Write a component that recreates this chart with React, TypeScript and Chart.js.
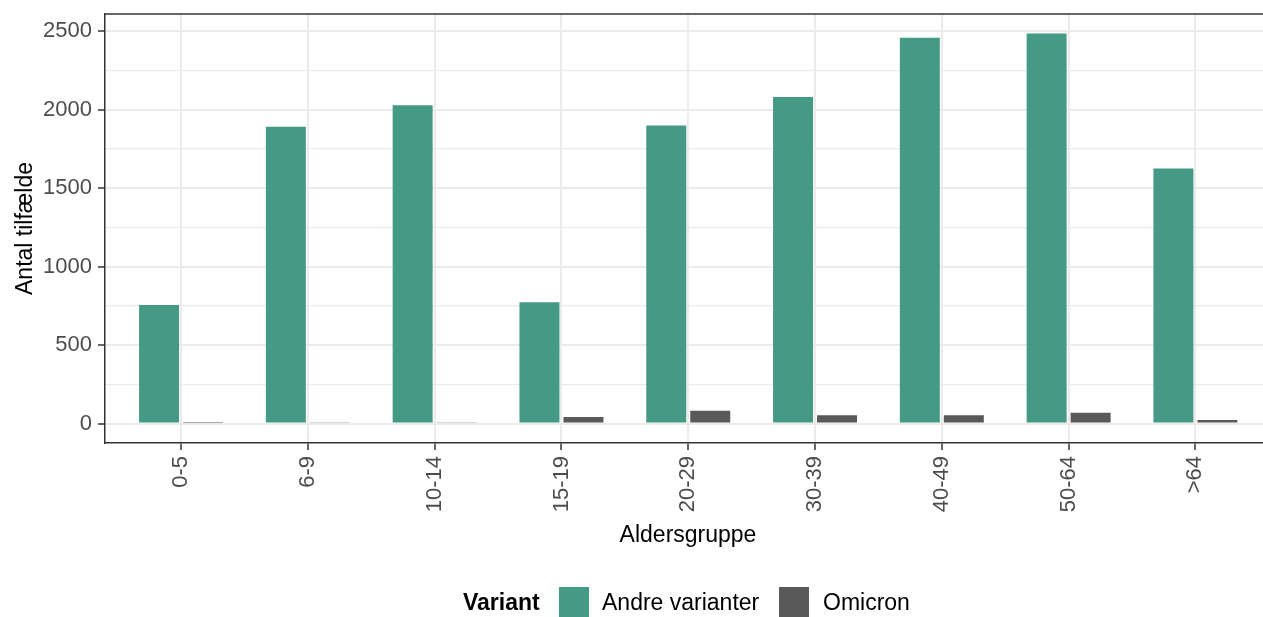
import React, { useEffect, useRef } from "react";
import { Chart, registerables } from "chart.js";

Chart.register(...registerables);

const categories = ["0-5", "6-9", "10-14", "15-19", "20-29", "30-39", "40-49", "50-64", ">64"];
const andreValues = [755, 1890, 2027, 772, 1898, 2080, 2458, 2485, 1625];
const omicronValues = [4, 5, 8, 42, 81, 53, 53, 68, 22];
const yMajorTicks = [0, 500, 1000, 1500, 2000, 2500];
const yMinorTicks = [250, 750, 1250, 1750, 2250];
const seriesNames = ["Andre varianter", "Omicron"];
const legendTitle = "Variant";
const xTitle = "Aldersgruppe";
const yTitle = "Antal tilfælde";

const GREEN = "#449A84";
const GREY = "#595959";
const FONT = "'Liberation Sans', Arial, Helvetica, sans-serif";

export default function App() {
  const ref = useRef<HTMLCanvasElement | null>(null);

  useEffect(() => {
    const canvas = ref.current;
    if (!canvas) return;

    const overlay = {
      id: "overlay",
      afterDraw(chart: any) {
        const ctx = chart.ctx as CanvasRenderingContext2D;
        const a = chart.chartArea;
        ctx.save();
        // top panel border
        ctx.strokeStyle = "#333333";
        ctx.lineWidth = 1.5;
        ctx.beginPath();
        ctx.moveTo(a.left, a.top);
        ctx.lineTo(a.right, a.top);
        ctx.stroke();

        // axis titles
        ctx.fillStyle = "#000000";
        ctx.font = `23px ${FONT}`;
        ctx.textAlign = "center";
        ctx.textBaseline = "alphabetic";
        ctx.fillText(xTitle, 688, 542);

        ctx.save();
        ctx.translate(32, (a.top + a.bottom) / 2);
        ctx.rotate(-Math.PI / 2);
        ctx.fillText(yTitle, 0, 0);
        ctx.restore();

        // legend
        ctx.textAlign = "left";
        ctx.font = `bold 23px ${FONT}`;
        ctx.fillText(legendTitle, 463, 610);
        ctx.font = `23px ${FONT}`;
        ctx.fillStyle = GREEN;
        ctx.fillRect(559, 587, 30, 30);
        ctx.fillStyle = "#000000";
        ctx.fillText(seriesNames[0], 602, 610);
        ctx.fillStyle = GREY;
        ctx.fillRect(779, 587, 30, 30);
        ctx.fillStyle = "#000000";
        ctx.fillText(seriesNames[1], 823, 610);
        ctx.restore();
      },
    };

    const chart = new Chart(canvas, {
      type: "bar",
      data: {
        datasets: [
          {
            label: seriesNames[0],
            data: andreValues.map((v, i) => ({ x: i, y: v })),
            backgroundColor: GREEN,
            borderWidth: 0,
            categoryPercentage: 0.694,
            barPercentage: 0.909,
          },
          {
            label: seriesNames[1],
            data: omicronValues.map((v, i) => ({ x: i, y: v })),
            backgroundColor: GREY,
            borderWidth: 0,
            categoryPercentage: 0.694,
            barPercentage: 0.909,
          },
        ],
      },
      options: {
        animation: false,
        responsive: false,
        layout: { padding: { left: 0, top: 14, right: 0, bottom: 0 } },
        plugins: {
          legend: { display: false },
          tooltip: { enabled: false },
        },
        scales: {
          x: {
            type: "linear",
            min: -0.6,
            max: 8.533,
            offset: false,
            afterBuildTicks: (axis: any) => {
              axis.ticks = categories.map((_, i) => ({ value: i }));
            },
            afterFit: (s: any) => {
              s.height = 174;
              s.paddingLeft = 0;
              s.paddingRight = 0;
            },
            ticks: {
              autoSkip: false,
              maxRotation: 90,
              minRotation: 90,
              padding: 6,
              color: "#4D4D4D",
              font: { family: FONT, size: 22 },
              callback: (value: any) => categories[Math.round(Number(value))] ?? "",
            },
            grid: {
              offset: false,
              color: "#EBEBEB",
              lineWidth: 2,
              tickLength: 7,
              tickColor: "#333333",
              tickWidth: 1.5,
            },
            border: { color: "#333333", width: 1.5 },
          },
          y: {
            type: "linear",
            min: -124,
            max: 2609,
            afterBuildTicks: (axis: any) => {
              axis.ticks = [...yMajorTicks, ...yMinorTicks]
                .sort((p, q) => p - q)
                .map((v) => ({ value: v }));
            },
            afterFit: (s: any) => {
              s.width = 105;
              s.paddingTop = 0;
              s.paddingBottom = 0;
            },
            ticks: {
              padding: 6,
              color: "#4D4D4D",
              font: { family: FONT, size: 22 },
              callback: (value: any) => (yMajorTicks.includes(Number(value)) ? String(value) : ""),
            },
            grid: {
              color: "#EBEBEB",
              lineWidth: (ctx: any) =>
                ctx.tick && yMajorTicks.includes(ctx.tick.value) ? 2 : 1.2,
              tickLength: 7,
              tickColor: (ctx: any) =>
                ctx.tick && yMajorTicks.includes(ctx.tick.value) ? "#333333" : "rgba(0,0,0,0)",
              tickWidth: 1.5,
            },
            border: { color: "#333333", width: 1.5 },
          },
        },
      },
      plugins: [overlay],
    } as any);

    return () => chart.destroy();
  }, []);

  return (
    <div style={{ position: "absolute", left: 0, top: 0, width: 1263, height: 617, background: "#ffffff" }}>
      <canvas ref={ref} width={1263} height={617} style={{ width: 1263, height: 617, display: "block" }} />
    </div>
  );
}
